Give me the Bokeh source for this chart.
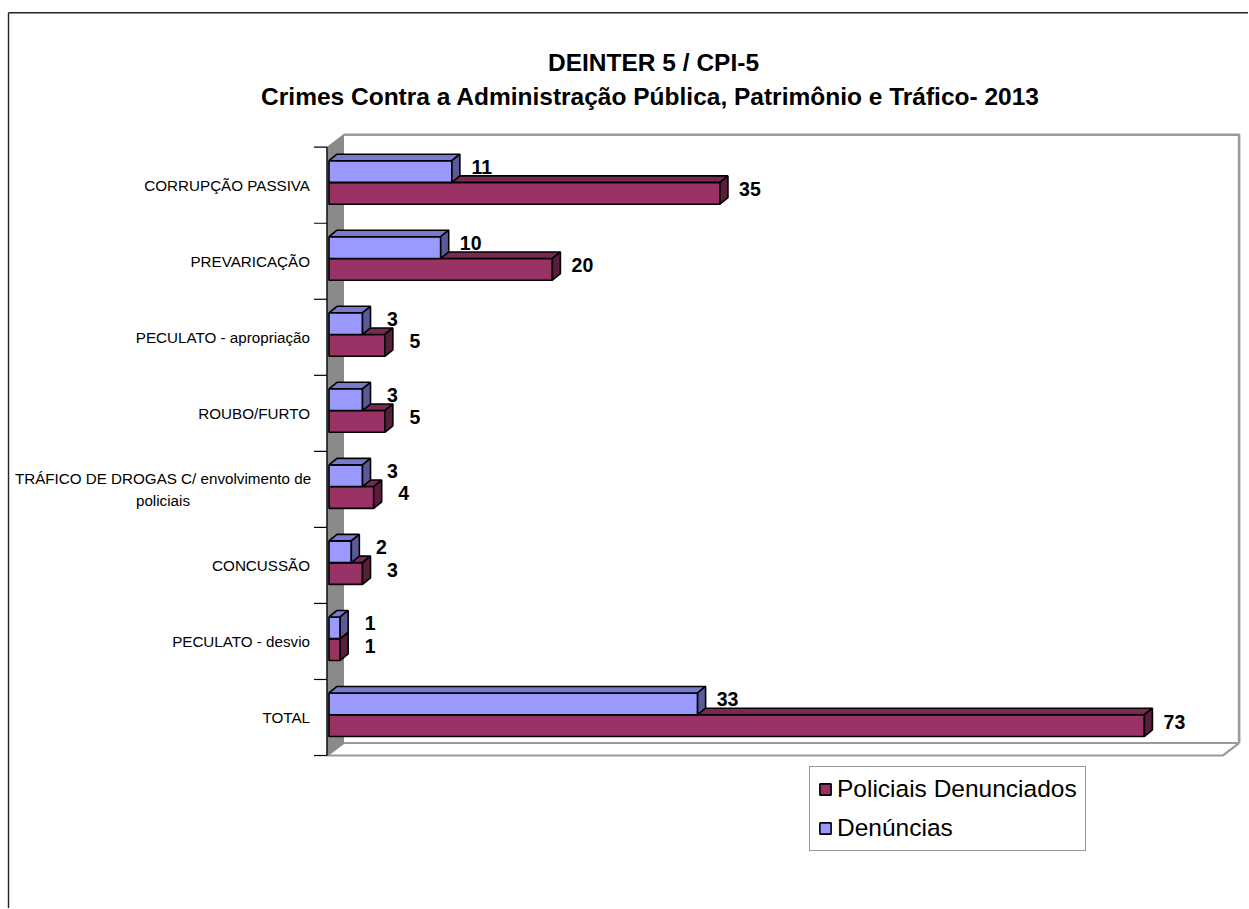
from bokeh.plotting import figure
from bokeh.models import Range1d, Legend, LegendItem
from bokeh.core.properties import value
from bokeh.embed import file_html
from bokeh.resources import INLINE

# ---------------- data ----------------
categories = [
    "CORRUPÇÃO PASSIVA",
    "PREVARICAÇÃO",
    "PECULATO - apropriação",
    "ROUBO/FURTO",
    "TRÁFICO DE DROGAS C/ envolvimento de\npoliciais",
    "CONCUSSÃO",
    "PECULATO - desvio",
    "TOTAL",
]
denuncias = [11, 10, 3, 3, 3, 2, 1, 33]
policiais = [35, 20, 5, 5, 4, 3, 1, 73]
series_names = ["Policiais Denunciados", "Denúncias"]
title_lines = ["DEINTER 5 / CPI-5",
               "Crimes Contra a Administração Pública, Patrimônio e Tráfico- 2013"]
x_axis_max = 80

# ---------------- layout / style ----------------
W, H = 1248, 908
PAGE = 0        # observed canvas origin on the page
X0 = 328.5      # page px of value 0
SX = 11.17      # px per unit
Y0 = 146.7      # page px of first category boundary
SY = 76.04      # px per category band
FONT = "Liberation Sans"

BLUE, BLUE_TOP, BLUE_SIDE = "#9999FF", "#7A7ACC", "#5A5A99"
RED, RED_TOP, RED_SIDE = "#993366", "#7A2952", "#5A1E3C"
WALL_GRAY = "#9A9A9A"


def xd(px):
    return (px - X0) / SX


def yd(py):
    return (py - Y0) / SY


p = figure(width=W, height=H,
           x_range=Range1d(xd(PAGE), xd(PAGE + W)),
           y_range=Range1d(yd(PAGE + H), yd(PAGE)),
           toolbar_location=None, output_backend="svg",
           x_axis_location=None, y_axis_location=None)
p.min_border_left = p.min_border_right = p.min_border_top = p.min_border_bottom = 0
p.grid.visible = False
p.outline_line_color = None
p.background_fill_color = "white"
p.border_fill_color = "white"

n = len(categories)
axis_x = xd(326.5)
wdx, wdy = 16.5 / SX, 12.5 / SY
bdx, bdy = 8 / SX, 6.5 / SY

# outer chart border (left + top visible)
bx, by = xd(8.0), yd(12.3)
p.segment(x0=[bx, bx], y0=[by, by], x1=[bx, xd(PAGE + W)], y1=[yd(PAGE + H), by],
          line_color="#222222", line_width=1.4)

# floor
p.patch(x=[axis_x, x_axis_max, x_axis_max + wdx, axis_x + wdx],
        y=[n, n, n - wdy, n - wdy], fill_color="white",
        line_color=WALL_GRAY, line_width=2.2)
# back wall edges
p.line(x=[axis_x + wdx, x_axis_max + wdx, x_axis_max + wdx],
       y=[-wdy, -wdy, n - wdy], line_color=WALL_GRAY, line_width=2.6)
# left wall
p.patch(x=[axis_x, axis_x + wdx, axis_x + wdx, axis_x],
        y=[0, -wdy, n - wdy, n], fill_color="#8A8A8A", line_color="#8A8A8A", line_width=1)

# category axis line and ticks
p.segment(x0=[axis_x], y0=[0], x1=[axis_x], y1=[n], line_color="black", line_width=1.3)
p.segment(x0=[axis_x - 13 / SX] * (n + 1), y0=list(range(n + 1)),
          x1=[axis_x] * (n + 1), y1=list(range(n + 1)), line_color="black", line_width=1.2)

# bars
y_top = [i + 13.5 / SY for i in range(n)]
y_mid = [i + 35.2 / SY for i in range(n)]
y_bot = [i + 57.0 / SY for i in range(n)]


def top_faces(vals, t):
    xs = [[0, v, v + bdx, bdx] for v in vals]
    ys = [[a, a, a - bdy, a - bdy] for a in t]
    return xs, ys


def side_faces(vals, t, b):
    xs = [[v, v + bdx, v + bdx, v] for v in vals]
    ys = [[a, a - bdy, c - bdy, c] for a, c in zip(t, b)]
    return xs, ys


LW = 1.6
red_front = p.quad(left=0, right=policiais, top=y_mid, bottom=y_bot,
                   fill_color=RED, line_color="black", line_width=LW)
xs, ys = top_faces(policiais, y_mid)
p.patches(xs=xs, ys=ys, fill_color=RED_TOP, line_color="black", line_width=LW)
xs, ys = side_faces(policiais, y_mid, y_bot)
p.patches(xs=xs, ys=ys, fill_color=RED_SIDE, line_color="black", line_width=LW)

blue_front = p.quad(left=0, right=denuncias, top=y_top, bottom=y_mid,
                    fill_color=BLUE, line_color="black", line_width=LW)
xs, ys = top_faces(denuncias, y_top)
p.patches(xs=xs, ys=ys, fill_color=BLUE_TOP, line_color="black", line_width=LW)
xs, ys = side_faces(denuncias, y_top, y_mid)
p.patches(xs=xs, ys=ys, fill_color=BLUE_SIDE, line_color="black", line_width=LW)

# data labels
lab_style = dict(text_font=value(FONT), text_font_style="bold", text_font_size="19.5px",
                 text_color="black", text_align="center", text_baseline="middle", x_offset=30)
p.text(x=denuncias, y=[(a + b) / 2 - 5 / SY for a, b in zip(y_top, y_mid)],
       text=[str(v) for v in denuncias], **lab_style)
p.text(x=policiais, y=[(a + b) / 2 - 4 / SY for a, b in zip(y_mid, y_bot)],
       text=[str(v) for v in policiais], **lab_style)

# category labels
single = [(i, c) for i, c in enumerate(categories) if "\n" not in c]
multi = [(i, c) for i, c in enumerate(categories) if "\n" in c]
cat_style = dict(text_font=value(FONT), text_font_size="15.2px", text_color="black",
                 text_baseline="middle")
p.text(x=[axis_x] * len(single), y=[i + 0.5 for i, _ in single], text=[c for _, c in single],
       text_align="right", x_offset=-17, **cat_style)
if multi:
    p.text(x=[axis_x] * len(multi), y=[i + 0.5 for i, _ in multi], text=[c for _, c in multi],
           text_align="center", x_offset=-164, text_line_height=1.32, **cat_style)

# titles
p.text(x=[xd(653), xd(650)], y=[yd(62), yd(96)], text=title_lines,
       text_font=value(FONT), text_font_style="bold", text_font_size="24.5px",
       text_color="black", text_align="center", text_baseline="alphabetic")

# legend
legend = Legend(items=[LegendItem(label=series_names[0], renderers=[red_front]),
                       LegendItem(label=series_names[1], renderers=[blue_front])],
                location=(809 - PAGE, PAGE + H - 851), orientation="vertical",
                label_text_font=FONT, label_text_font_size="24.5px", label_text_color="black",
                glyph_width=14, glyph_height=14, label_standoff=5, label_height=28,
                padding=8, spacing=11, margin=0,
                border_line_color="#333333", border_line_width=1,
                background_fill_color="white", background_fill_alpha=1.0)
p.add_layout(legend)

open("out.html", "w").write(file_html(p, INLINE))
